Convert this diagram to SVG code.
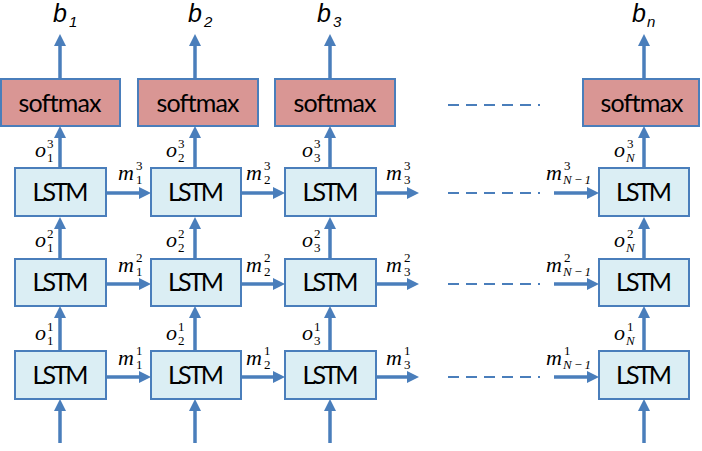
<svg xmlns="http://www.w3.org/2000/svg" width="702" height="451" viewBox="0 0 702 451">
<defs>
<marker id="ah" markerUnits="userSpaceOnUse" markerWidth="14" markerHeight="14" viewBox="0 -7 14 14" refX="2" refY="0" orient="auto"><path d="M0,-6 L12,0 L0,6 z" fill="#4A7EBB"/></marker>
</defs>
<style>
.sm{fill:#D99694;stroke:#4A7EBB;stroke-width:2}
.ls{fill:#DBEEF4;stroke:#4A7EBB;stroke-width:2}
.t{font-family:Lato,'Liberation Sans',sans-serif;font-size:25px;fill:#000;text-anchor:middle}
.ar{stroke:#4A7EBB;stroke-width:3.5;fill:none;marker-end:url(#ah)}
.da{stroke:#4A7EBB;stroke-width:2;stroke-dasharray:11 7;fill:none}
.mi{font-family:'Liberation Serif',serif;font-style:italic;font-size:22px;fill:#000}
.sc{font-family:'Liberation Serif',serif;font-size:13px;fill:#000}
.si{font-family:'Liberation Serif',serif;font-size:13px;font-style:italic;fill:#000}
.b{font-family:'Liberation Sans',sans-serif;font-style:italic;font-size:25px;fill:#000}
.bs{font-family:'Liberation Sans',sans-serif;font-style:italic;font-size:15px;fill:#000}
</style>
<g id="softmax1"><rect class="sm" x="1" y="79" width="119" height="47"/><text class="t" x="60" y="112" textLength="83">softmax</text></g>
<g id="softmax2"><rect class="sm" x="138" y="79" width="120" height="47"/><text class="t" x="198" y="112" textLength="83">softmax</text></g>
<g id="softmax3"><rect class="sm" x="275" y="79" width="120" height="47"/><text class="t" x="335" y="112" textLength="83">softmax</text></g>
<g id="softmaxN"><rect class="sm" x="583" y="79" width="116" height="47"/><text class="t" x="642" y="112" textLength="83">softmax</text></g>
<g id="lstm13"><rect class="ls" x="15" y="168" width="91" height="48"/><text class="t" x="60.5" y="201" textLength="56">LSTM</text></g>
<g id="lstm23"><rect class="ls" x="151" y="168" width="90" height="48"/><text class="t" x="196" y="201" textLength="56">LSTM</text></g>
<g id="lstm33"><rect class="ls" x="285" y="168" width="91" height="48"/><text class="t" x="330.5" y="201" textLength="56">LSTM</text></g>
<g id="lstmN3"><rect class="ls" x="599" y="168" width="90" height="48"/><text class="t" x="644" y="201" textLength="56">LSTM</text></g>
<g id="lstm12"><rect class="ls" x="15" y="259" width="91" height="47"/><text class="t" x="60.5" y="291" textLength="56">LSTM</text></g>
<g id="lstm22"><rect class="ls" x="151" y="259" width="90" height="47"/><text class="t" x="196" y="291" textLength="56">LSTM</text></g>
<g id="lstm32"><rect class="ls" x="285" y="259" width="91" height="47"/><text class="t" x="330.5" y="291" textLength="56">LSTM</text></g>
<g id="lstmN2"><rect class="ls" x="599" y="259" width="90" height="47"/><text class="t" x="644" y="291" textLength="56">LSTM</text></g>
<g id="lstm11"><rect class="ls" x="15" y="351" width="91" height="48"/><text class="t" x="60.5" y="384" textLength="56">LSTM</text></g>
<g id="lstm21"><rect class="ls" x="151" y="351" width="90" height="48"/><text class="t" x="196" y="384" textLength="56">LSTM</text></g>
<g id="lstm31"><rect class="ls" x="285" y="351" width="91" height="48"/><text class="t" x="330.5" y="384" textLength="56">LSTM</text></g>
<g id="lstmN1"><rect class="ls" x="599" y="351" width="90" height="48"/><text class="t" x="644" y="384" textLength="56">LSTM</text></g>
<g id="connectors">
<line class="ar" x1="60" y1="79" x2="60" y2="44"/><line class="ar" x1="195" y1="79" x2="195" y2="44"/><line class="ar" x1="330" y1="79" x2="330" y2="44"/><line class="ar" x1="644" y1="79" x2="644" y2="44"/>
<line class="ar" x1="60" y1="168" x2="60" y2="136"/><line class="ar" x1="195" y1="168" x2="195" y2="136"/><line class="ar" x1="330" y1="168" x2="330" y2="136"/><line class="ar" x1="644" y1="168" x2="644" y2="136"/>
<line class="ar" x1="60" y1="259" x2="60" y2="227"/><line class="ar" x1="195" y1="259" x2="195" y2="227"/><line class="ar" x1="330" y1="259" x2="330" y2="227"/><line class="ar" x1="644" y1="259" x2="644" y2="227"/>
<line class="ar" x1="60" y1="351" x2="60" y2="316"/><line class="ar" x1="195" y1="351" x2="195" y2="316"/><line class="ar" x1="330" y1="351" x2="330" y2="316"/><line class="ar" x1="644" y1="351" x2="644" y2="316"/>
<line class="ar" x1="60" y1="443" x2="60" y2="409"/><line class="ar" x1="195" y1="443" x2="195" y2="409"/><line class="ar" x1="330" y1="443" x2="330" y2="409"/><line class="ar" x1="644" y1="443" x2="644" y2="409"/>
<line class="ar" x1="106" y1="193" x2="141" y2="193"/><line class="ar" x1="241" y1="193" x2="275" y2="193"/><line class="ar" x1="376" y1="193" x2="409" y2="193"/><line class="ar" x1="554" y1="193" x2="589" y2="193"/>
<line class="ar" x1="106" y1="284" x2="141" y2="284"/><line class="ar" x1="241" y1="284" x2="275" y2="284"/><line class="ar" x1="376" y1="284" x2="409" y2="284"/><line class="ar" x1="554" y1="284" x2="589" y2="284"/>
<line class="ar" x1="106" y1="377" x2="141" y2="377"/><line class="ar" x1="241" y1="377" x2="275" y2="377"/><line class="ar" x1="376" y1="377" x2="409" y2="377"/><line class="ar" x1="554" y1="377" x2="589" y2="377"/>
<path class="da" d="M448,105H540M448,193H540M448,284H540M448,377H540"/>
</g>
<g id="labels">
<text class="b" x="53" y="22">b</text><text class="bs" x="69" y="27">1</text>
<text class="b" x="188" y="22">b</text><text class="bs" x="204" y="27">2</text>
<text class="b" x="317" y="22">b</text><text class="bs" x="333" y="27">3</text>
<text class="b" x="632" y="22">b</text><text class="bs" x="647" y="27">n</text>

<text class="mi" x="35" y="157">o</text><text class="sc" x="47" y="148">3</text><text class="sc" x="47" y="162">1</text>
<text class="mi" x="166" y="157">o</text><text class="sc" x="178" y="148">3</text><text class="sc" x="178" y="162">2</text>
<text class="mi" x="302" y="157">o</text><text class="sc" x="314" y="148">3</text><text class="sc" x="314" y="162">3</text>
<text class="mi" x="614" y="157">o</text><text class="sc" x="627" y="148">3</text><text class="si" x="626" y="162">N</text>

<text class="mi" x="35" y="247">o</text><text class="sc" x="47" y="238">2</text><text class="sc" x="47" y="252">1</text>
<text class="mi" x="166" y="247">o</text><text class="sc" x="178" y="238">2</text><text class="sc" x="178" y="252">2</text>
<text class="mi" x="302" y="247">o</text><text class="sc" x="314" y="238">2</text><text class="sc" x="314" y="252">3</text>
<text class="mi" x="614" y="247">o</text><text class="sc" x="627" y="238">2</text><text class="si" x="626" y="252">N</text>

<text class="mi" x="35" y="340">o</text><text class="sc" x="47" y="331">1</text><text class="sc" x="47" y="345">1</text>
<text class="mi" x="166" y="340">o</text><text class="sc" x="178" y="331">1</text><text class="sc" x="178" y="345">2</text>
<text class="mi" x="302" y="340">o</text><text class="sc" x="314" y="331">1</text><text class="sc" x="314" y="345">3</text>
<text class="mi" x="614" y="340">o</text><text class="sc" x="627" y="331">1</text><text class="si" x="626" y="345">N</text>

<text class="mi" x="118" y="180">m</text><text class="sc" x="136" y="170">3</text><text class="sc" x="136" y="184">1</text>
<text class="mi" x="246" y="180">m</text><text class="sc" x="264" y="170">3</text><text class="sc" x="264" y="184">2</text>
<text class="mi" x="386" y="180">m</text><text class="sc" x="404" y="170">3</text><text class="sc" x="404" y="184">3</text>
<text class="mi" x="546" y="180">m</text><text class="sc" x="564" y="170">3</text><text class="si" x="563" y="184">N<tspan class="sc" dx="2">−</tspan><tspan class="sc" dx="2">1</tspan></text>

<text class="mi" x="118" y="272">m</text><text class="sc" x="136" y="262">2</text><text class="sc" x="136" y="276">1</text>
<text class="mi" x="246" y="272">m</text><text class="sc" x="264" y="262">2</text><text class="sc" x="264" y="276">2</text>
<text class="mi" x="386" y="272">m</text><text class="sc" x="404" y="262">2</text><text class="sc" x="404" y="276">3</text>
<text class="mi" x="546" y="272">m</text><text class="sc" x="564" y="262">2</text><text class="si" x="563" y="276">N<tspan class="sc" dx="2">−</tspan><tspan class="sc" dx="2">1</tspan></text>

<text class="mi" x="118" y="365">m</text><text class="sc" x="136" y="355">1</text><text class="sc" x="136" y="369">1</text>
<text class="mi" x="246" y="365">m</text><text class="sc" x="264" y="355">1</text><text class="sc" x="264" y="369">2</text>
<text class="mi" x="386" y="365">m</text><text class="sc" x="404" y="355">1</text><text class="sc" x="404" y="369">3</text>
<text class="mi" x="546" y="365">m</text><text class="sc" x="564" y="355">1</text><text class="si" x="563" y="369">N<tspan class="sc" dx="2">−</tspan><tspan class="sc" dx="2">1</tspan></text>
</g>
</svg>
